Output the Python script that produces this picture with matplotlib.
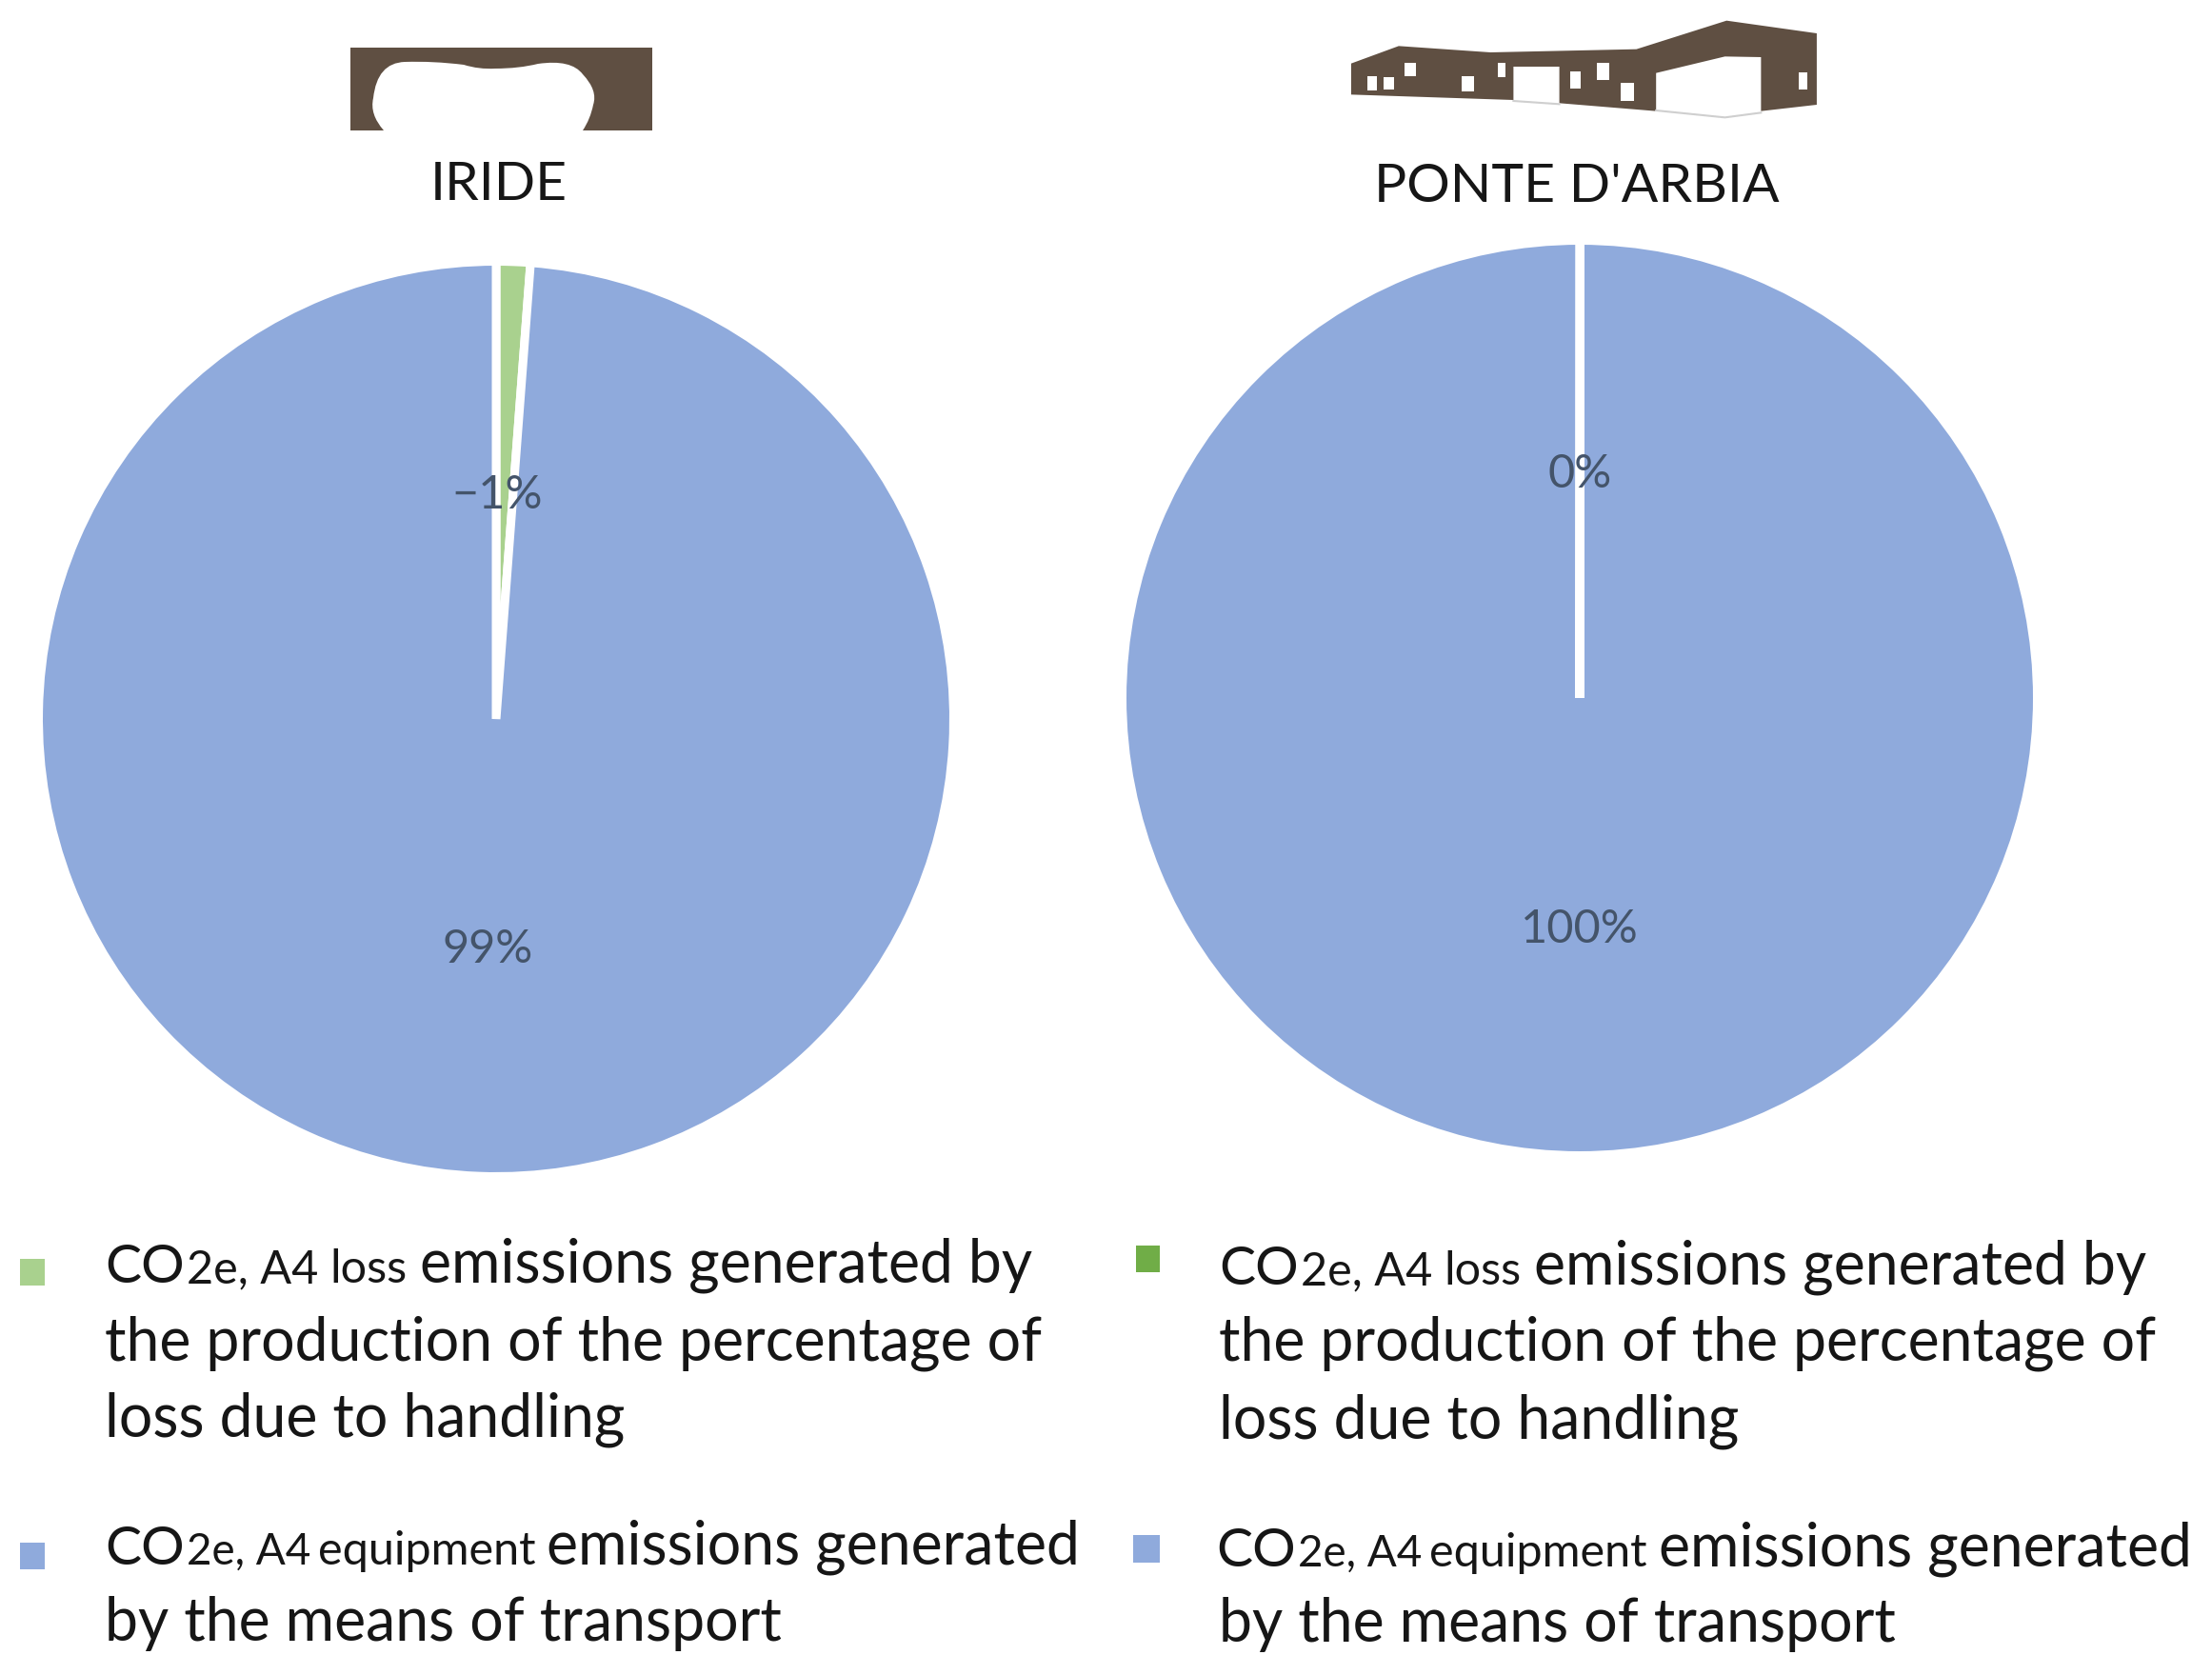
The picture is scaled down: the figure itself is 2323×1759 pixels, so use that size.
import matplotlib
matplotlib.use('Agg')
import matplotlib.pyplot as plt
from matplotlib.patches import PathPatch, Polygon, Rectangle
from matplotlib.path import Path

plt.rcParams['font.family'] = ['Lato', 'DejaVu Sans']

# Data
pie_names = ['IRIDE', "PONTE D'ARBIA"]
iride_values = [1.2, 98.8]
iride_labels = ['\u22121%', '99%']
ponte_values = [0.01, 99.99]
ponte_labels = ['0%', '100%']

BLUE = '#8FAADC'
GREEN_LIGHT = '#A9D18E'
GREEN_DARK = '#70AD47'
BROWN = '#5F4F42'
TEXT = '#161616'
LABEL = '#44546A'

W, H = 2323, 1759
CO_SIZE = 41
BIG = 45
SMALL = 35
TINY = 35

fig = plt.figure(figsize=(W / 100, H / 100), dpi=100)
bg = fig.add_axes([0, 0, 1, 1])
bg.set_xlim(0, W)
bg.set_ylim(H, 0)
bg.axis('off')


def draw_pie(cx, cy, r, values, labels, colors, first_dx=0.0):
    # axes placed in pixels so that the pie lands where it does in the reference
    ax = fig.add_axes([(cx - r) / W, 1 - (cy + r) / H, 2 * r / W, 2 * r / H])
    wedges, texts = ax.pie(values, labels=labels, colors=colors, startangle=90,
                           counterclock=False, labeldistance=0.5,
                           wedgeprops={'edgecolor': 'white', 'linewidth': 6.5},
                           textprops={'fontsize': 35, 'color': LABEL})
    for t in texts:
        t.set_ha('center')
        t.set_va('center')
        x, y = t.get_position()
        t.set_position((x, y - 0.005))
    x, y = texts[0].get_position()
    texts[0].set_position((x + first_dx, y - 0.005))
    ax.set_xlim(-1, 1)
    ax.set_ylim(-1, 1)
    return ax


draw_pie(521, 755, 480.5, iride_values, iride_labels, [GREEN_LIGHT, BLUE], first_dx=-0.016)
draw_pie(1659, 733, 480.5, ponte_values, ponte_labels, [GREEN_DARK, BLUE])

bg.text(524, 194, pie_names[0], fontsize=41, color=TEXT, ha='center', va='center')
bg.text(1656, 196, pie_names[1], fontsize=41, color=TEXT, ha='center', va='center')

# IRIDE pictogram
bg.add_patch(Rectangle((368, 50), 317, 87, color=BROWN, lw=0))
arch = Path([(403, 137), (388, 120), (392, 103), (396, 66), (425, 65), (455, 64), (487, 68),
             (503, 73), (520, 72), (545, 72), (565, 67), (600, 62), (612, 78), (628, 95),
             (623, 110), (620, 125), (612, 137), (403, 137)],
            [Path.MOVETO] + [Path.CURVE3] * 16 + [Path.LINETO])
bg.add_patch(PathPatch(arch, facecolor='white', edgecolor='none'))


def zx(x):
    return 1400 + x / 2.904


def zy(y):
    return y / 3


# Ponte d'Arbia pictogram, outline and windows as measured on a zoomed crop
house = [(55, 200), (200, 145), (480, 165), (925, 155), (1200, 65), (1475, 105), (1475, 330),
         (1305, 350), (1305, 180), (1195, 178), (985, 230), (985, 350), (690, 325), (690, 210),
         (550, 210), (550, 315), (55, 298)]
windows = [(105, 240, 135, 285), (155, 242, 187, 282), (218, 198, 253, 240), (392, 240, 430, 288),
           (502, 198, 527, 243), (722, 225, 755, 278), (805, 197, 842, 252), (877, 260, 917, 317),
           (1420, 228, 1445, 282)]
bg.add_patch(Polygon([(zx(x), zy(y)) for x, y in house], color=BROWN, lw=0))
for x0, y0, x1, y1 in windows:
    bg.add_patch(Rectangle((zx(x0), zy(y0)), (x1 - x0) / 2.904, (y1 - y0) / 3, color='white', lw=0))
bg.plot([zx(550), zx(690)], [zy(318), zy(328)], color='#CFCFCF', lw=1.5)
bg.plot([zx(985), zx(1195), zx(1305)], [zy(348), zy(370), zy(355)], color='#CFCFCF', lw=1.5)


def draw_runs(x, y, runs):
    # one baseline made of pieces with different font sizes
    renderer = fig.canvas.get_renderer()
    for txt, size, gap in runs:
        t = bg.text(x, y, txt, fontsize=size, color=TEXT, ha='left', va='baseline')
        x = t.get_window_extent(renderer).x1 + gap


def draw_legend(x, x_equip, ys, tail1, tail2):
    draw_runs(x, ys[0], [('CO', CO_SIZE, 2), ('2e, A4', SMALL, 12), ('loss', TINY, 14),
                         ('emissions generated by', BIG, 0)])
    draw_runs(x, ys[1], [('the production of the percentage of', BIG, 0)])
    draw_runs(x, ys[2], [('loss due to handling', BIG, 0)])
    draw_runs(x_equip, ys[3], [('CO', CO_SIZE, 2), ('2e, A4', 33, 8), ('equipment', TINY, 12),
                               (tail1, BIG, 0)])
    draw_runs(x, ys[4], [(tail2, BIG, 0)])


draw_legend(110, 110, [1347, 1428, 1508, 1643, 1723], 'emissions generated', 'by the means of transport')
draw_legend(1280, 1277, [1349, 1429, 1511, 1645, 1724], 'emissions generated', 'by the means of transport')

bg.add_patch(Rectangle((21, 1322), 26, 28, color=GREEN_LIGHT, lw=0))
bg.add_patch(Rectangle((21, 1620), 26, 28, color=BLUE, lw=0))
bg.add_patch(Rectangle((1193, 1308), 25, 28, color=GREEN_DARK, lw=0))
bg.add_patch(Rectangle((1190, 1612), 28, 29, color=BLUE, lw=0))

fig.savefig('out.png', dpi=100)
